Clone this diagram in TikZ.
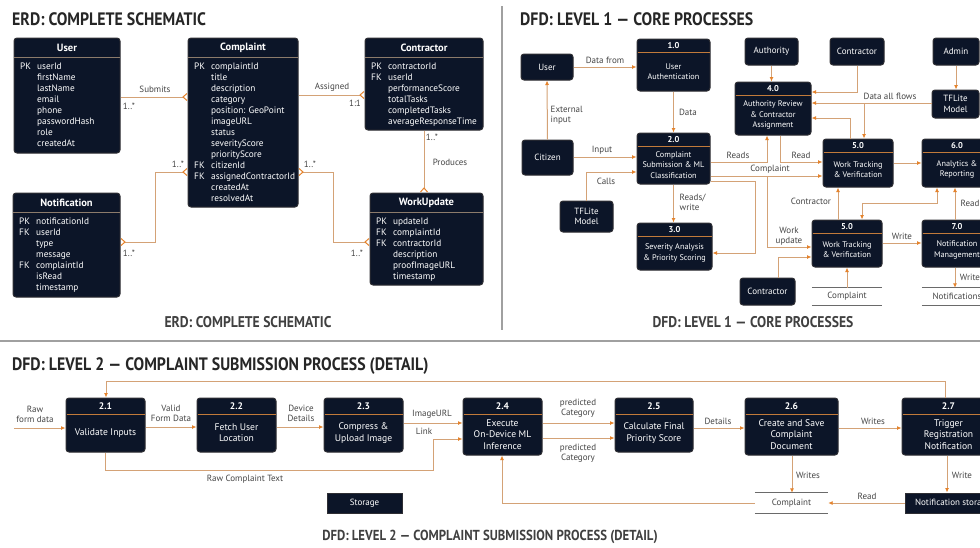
\documentclass[tikz,border=0pt]{standalone}
\usepackage{fontspec}
\setmainfont{PT Sans}
\newfontfamily\titlefont[FakeStretch=0.88]{PT Sans}
\usetikzlibrary{arrows.meta}
\definecolor{navy}{HTML}{0C1528}
\definecolor{boxedge}{HTML}{2E2E33}
\definecolor{conn}{HTML}{D4A276}
\definecolor{arr}{HTML}{E5832C}
\definecolor{sepc}{HTML}{C27A3A}
\definecolor{esepc}{HTML}{8C7B6B}
\definecolor{lbl}{HTML}{454545}
\definecolor{divc}{HTML}{A0A0A0}
\newcommand\kf[1]{\makebox[17pt][l]{#1}}
\newcommand\erdent[7]{%
  \node[box, minimum width={#4-#2}, minimum height={#5-#3}] (#1) at ({(#2+#4)/2},{(#3+#5)/2}) {};
  \node[etitle] (#1-h) at ({(#2+#4)/2},{#3+10}) {#6};
  \draw[esep] ({#2},{#3+19}) -- ({#4},{#3+19});
  \node[ebody, anchor=north west] (#1-b) at ({#2+6},{#3+24}) {#7};
}
\newcommand\dfdproc[8]{%
  \node[box, minimum width={#4-#2}, minimum height={#5-#3}] (#1) at ({(#2+#4)/2},{(#3+#5)/2}) {};
  \node[phead] (#1-n) at ({(#2+#4)/2},{#3+#6/2}) {#7};
  \draw[psep] ({#2+0.5},{#3+#6}) -- ({#4-0.5},{#3+#6});
  \node[pbody] (#1-t) at ({(#2+#4)/2},{(#3+#6+#5)/2}) {#8};
}
\newcommand\dfdext[6]{%
  \node[ext, minimum width={#4-#2}, minimum height={#5-#3}] (#1) at ({(#2+#4)/2},{(#3+#5)/2}) {#6};
}
\newcommand\dstore[6]{%
  \node[lab, minimum width={#4-#2}, minimum height={#5-#3}, inner sep=0pt] (#1) at ({(#2+#4)/2},{(#3+#5)/2}) {#6};
  \draw[storeline] (#1.north west) -- (#1.north east) (#1.south west) -- (#1.south east);
}
\begin{document}
\begin{tikzpicture}[x=1pt,y=-1pt,
 box/.style={draw=boxedge, line width=1pt, fill=navy, rounded corners=3pt, inner sep=0pt},
 etitle/.style={text=white, font=\fontsize{10.5}{12}\selectfont\bfseries, inner sep=0pt},
 ebody/.style={text=white, font=\fontsize{9.3}{11}\selectfont, align=left, inner sep=0pt},
 esep/.style={draw=esepc, line width=0.6pt},
 psep/.style={draw=sepc, line width=0.8pt},
 phead/.style={text=white, font=\fontsize{8.5}{10}\selectfont\bfseries, inner sep=0pt},
 pbody/.style={text=white, font=\fontsize{8.2}{10.2}\selectfont, align=center, inner sep=0pt},
 ext/.style={box, text=white, align=center, font=\fontsize{9}{10.5}\selectfont},
 wire/.style={draw=conn, line width=1pt},
 flow/.style={wire, -{Latex[length=4.5pt,width=4pt,color=arr]}},
 flowb/.style={wire, {Latex[length=4.5pt,width=4pt,color=arr]}-{Latex[length=4.5pt,width=4pt,color=arr]}},
 crow/.style={wire, -{Straight Barb[reversed,length=4pt,width=7pt,color=arr]}},
 crowb/.style={wire, {Straight Barb[reversed,length=4pt,width=7pt,color=arr]}-{Straight Barb[reversed,length=4pt,width=7pt,color=arr]}},
 lab/.style={text=lbl, font=\fontsize{9}{10}\selectfont, align=center, inner sep=0.5pt},
 storeline/.style={draw=lbl!80, line width=0.7pt},
 stitle/.style={font=\titlefont\bfseries\fontsize{18}{20}\selectfont, text=black!85, anchor=west, inner sep=0pt},
 ctitle/.style={font=\titlefont\bfseries\fontsize{15.5}{17}\selectfont, text=black!75, inner sep=0pt},
]
\fill[white] (0,0) rectangle (980,547);
\useasboundingbox (0,0) rectangle (980,547);
\draw[divc, line width=1.3pt] (502,6) -- (502,330);
\draw[divc, line width=1.3pt] (0,341) -- (980,341);

% ================= ERD =================
\node[stitle] (t1) at (12,19) {ERD: COMPLETE SCHEMATIC};
\erdent{user}{14}{38}{120}{153}{User}{\strut\kf{PK}userId\\\kf{}firstName\\\kf{}lastName\\\kf{}email\\\kf{}phone\\\kf{}passwordHash\\\kf{}role\\\kf{}createdAt}
\erdent{complaint}{188}{38}{298}{207}{Complaint}{\strut\kf{PK}complaintId\\\kf{}title\\\kf{}description\\\kf{}category\\\kf{}position: GeoPoint\\\kf{}imageURL\\\kf{}status\\\kf{}severityScore\\\kf{}priorityScore\\\kf{FK}citizenId\\\kf{FK}assignedContractorId\\\kf{}createdAt\\\kf{}resolvedAt}
\erdent{contractor}{365}{38}{483}{130}{Contractor}{\strut\kf{PK}contractorId\\\kf{FK}userId\\\kf{}performanceScore\\\kf{}totalTasks\\\kf{}completedTasks\\\kf{}averageResponseTime}
\erdent{notification}{13}{193}{120}{297}{Notification}{\strut\kf{PK}notificationId\\\kf{FK}userId\\\kf{}type\\\kf{}message\\\kf{FK}complaintId\\\kf{}isRead\\\kf{}timestamp}
\erdent{workupdate}{370}{193}{483}{285}{WorkUpdate}{\strut\kf{PK}updateId\\\kf{FK}complaintId\\\kf{FK}contractorId\\\kf{}description\\\kf{}proofImageURL\\\kf{}timestamp}

\draw[crow] (user.east |- 0,97) -- (complaint.west |- 0,97);
\node[lab] (e1) at (155,89) {Submits};
\node[lab] (e2) at (129,106) {1..*};
\draw[crow] (complaint.east |- 0,95) -- (contractor.west |- 0,95);
\node[lab] (e3) at (332,87) {Assigned};
\node[lab] (e4) at (355,103) {1:1};
\draw[crow] (contractor.south) -- (workupdate.north -| contractor.south);
\node[lab] (e5) at (432,137) {1..*};
\node[lab] (e6) at (450,162) {Produces};
\draw[crowb] (complaint.west |- 0,172) -| (155,242) -- (notification.east |- 0,242);
\node[lab] (e7) at (178,164) {1..*};
\node[lab] (e8) at (129,253) {1..*};
\draw[crowb] (complaint.east |- 0,172) -| (333,242) -- (workupdate.west |- 0,242);
\node[lab] (e9) at (310,164) {1..*};
\node[lab] (e10) at (357,253) {1..*};
\node[ctitle] (c1) at (248,322) {ERD: COMPLETE SCHEMATIC};

% ================= DFD LEVEL 1 =================
\node[stitle] (t2) at (520,19) {DFD: LEVEL 1 — CORE PROCESSES};
\dfdext{usr}{521}{54}{573}{80}{User}
\dfdext{cit}{522}{140}{573}{175}{Citizen}
\dfdext{tfa}{560}{201}{613}{232}{TFLite\\Model}
\dfdext{auth}{745}{38}{798}{65}{Authority}
\dfdext{cont}{830}{38}{884}{65}{Contractor}
\dfdext{admin}{933}{38}{979}{65}{Admin}
\dfdext{tfb}{932}{90}{979}{118}{TFLite\\Model}
\dfdext{conb}{740}{278}{795}{305}{Contractor}
\dfdproc{pa}{637}{39}{710}{91}{13}{1.0}{User\\Authentication}
\dfdproc{pb}{637}{133}{710}{184}{13}{2.0}{Complaint\\Submission \& ML\\Classification}
\dfdproc{pc}{637}{223}{712}{270}{13}{3.0}{Severity Analysis\\\& Priority Scoring}
\dfdproc{pd}{735}{82}{811}{135}{13}{4.0}{Authority Review\\\& Contractor\\Assignment}
\dfdproc{pe}{823}{139}{893}{187}{13}{5.0}{Work Tracking\\\& Verification}
\dfdproc{pf}{922}{139}{992}{187}{13}{6.0}{Analytics \&\\Reporting}
\dfdproc{pg}{812}{220}{882}{267}{13}{5.0}{Work Tracking\\\& Verification}
\dfdproc{ph}{922}{220}{992}{267}{13}{7.0}{Notification\\Management}
\dstore{dsa}{812}{288}{882}{305}{Complaint}
\dstore{dsb}{922}{288}{992}{305}{Notifications}

\draw[flow] (usr.east) -- (pa.west |- usr.east);
\node[lab] (d1) at (605,60) {Data from};
\draw[flow] (cit.north) -- (usr.south);
\node[lab, align=left, anchor=west] (d2) at (550,115) {External\\input};
\draw[flow] (pa.south) -- (pb.north);
\node[lab] (d3) at (688,112) {Data};
\draw[flow] (cit.east |- 0,157) -- (pb.west |- 0,157);
\node[lab] (d4) at (602,150) {Input};
\draw[flow] (tfa.north) |- (pb.west |- 0,172);
\node[lab] (d5) at (606,181) {Calls};
\draw[flow] (pb.south) -- (pc.north -| pb.south);
\node[lab, align=left, anchor=west] (d6) at (679,202) {Reads/\\write};
\draw[flow] (pb.east |- 0,162) -| (pd.south -| 767,0);
\node[lab] (d7) at (738,155) {Reads};
\draw[flow] (pd.south -| 780,0) |- (pe.west |- 0,162);
\node[lab] (d8) at (801,155) {Read};
\draw[flow] (pb.east |- 0,176) -- (pe.west |- 0,176);
\node[lab] (d9) at (770,169) {Complaint};
\draw[flow] (pb.east |- 0,181) -- (755,181) |- (pc.east |- 0,253);
\coordinate (wu) at (767,176);
\draw[flow] (wu) |- (pg.west |- 0,247);
\node[lab] (d10) at (789,236) {Work\\update};
\draw[flow] (conb.north -| 778,0) |- (pg.west |- 0,257);
\draw[flow] (pg.north -| 838,0) -- (pe.south -| 838,0);
\node[lab] (d11) at (811,201) {Contractor};
\draw[flowb] (pg.north -| 862,0) |- (937,203) -- (pf.south -| 937,0);
\draw[flow] (ph.north -| 955,0) -- (pf.south -| 955,0);
\node[lab] (d12) at (970,203) {Read};
\draw[flow] (pg.east |- 0,243) -- (ph.west |- 0,243);
\node[lab] (d13) at (902,236) {Write};
\draw[flow] (dsa.north -| 847,0) -- (pg.south -| 847,0);
\draw[flow] (ph.south -| 955,0) -- (dsb.north -| 955,0);
\node[lab] (d14) at (970,277) {Write};
\draw[flow] (pe.east |- 0,163) -- (pf.west |- 0,163);
\draw[flow] (auth.south) -- (pd.north -| auth.south);
\draw[flow] (cont.south) |- (pd.east |- 0,92);
\draw[flow] (tfb.west |- 0,103) -- (pd.east |- 0,103);
\node[lab] (d15) at (890,96) {Data all flows};
\coordinate (dj) at (864,103);
\draw[flow] (dj) -- (pe.north -| dj);
\draw[flow] (pe.north -| 850,0) |- (pd.east |- 0,118);
\draw[flow] (admin.south) -- (tfb.north -| admin.south);
\node[ctitle] (c2) at (753,322) {DFD: LEVEL 1 — CORE PROCESSES};

% ================= DFD LEVEL 2 =================
\node[stitle] (t3) at (12,366) {DFD: LEVEL 2 — COMPLAINT SUBMISSION PROCESS (DETAIL)};
\begin{scope}[phead/.style={text=white, font=\fontsize{9.5}{10}\selectfont\bfseries, inner sep=0pt},
  pbody/.style={text=white, font=\fontsize{9.6}{11.3}\selectfont, align=center, inner sep=0pt}]
\dfdproc{qa}{66}{398}{145}{452}{16}{2.1}{Validate Inputs}
\dfdproc{qb}{197}{398}{276}{452}{16}{2.2}{Fetch User\\Location}
\dfdproc{qc}{324}{398}{403}{452}{16}{2.3}{Compress \&\\Upload Image}
\dfdproc{qd}{463}{398}{542}{455}{16}{2.4}{Execute\\On-Device ML\\Inference}
\dfdproc{qe}{615}{398}{693}{452}{16}{2.5}{Calculate Final\\Priority Score}
\dfdproc{qf}{745}{398}{838}{455}{16}{2.6}{Create and Save\\Complaint\\Document}
\dfdproc{qg}{902}{398}{995}{455}{16}{2.7}{Trigger\\Registration\\Notification}
\end{scope}
\node[ext, rounded corners=0pt, minimum width=75, minimum height=20] (stor) at (364.5,503) {Storage};
\dstore{dsc}{755}{493}{828}{513}{Complaint}
\node[ext, rounded corners=0pt, minimum width=95, minimum height=20, anchor=west] (nst) at (905,503) {Notification storage};

\coordinate (rawin) at (14,428);
\draw[flow] (rawin) -- (qa.west |- rawin);
\node[lab] (f1) at (35,414) {Raw\\form data};
\draw[flow] (qa.east |- 0,427) -- (qb.west |- 0,427);
\node[lab] (f2) at (171,413) {Valid\\Form Data};
\draw[flow] (qb.east |- 0,427) -- (qc.west |- 0,427);
\node[lab] (f3) at (301,413) {Device\\Details};
\draw[flow] (qc.east |- 0,423) -- (qd.west |- 0,423);
\node[lab] (f4) at (432,414) {ImageURL};
\node[lab] (f5) at (424,431) {Link};
\draw[flow] (qa.south -| 105,0) |- (433,470) |- (qd.west |- 0,439);
\node[lab] (f6) at (245,479) {Raw Complaint Text};
\draw[flow] (qd.east |- 0,423) -- (qe.west |- 0,423);
\node[lab] (f7) at (578,408) {predicted\\Category};
\draw[flow] (qd.east |- 0,438) -- (qe.west |- 0,438);
\node[lab] (f8) at (578,453) {predicted\\Category};
\draw[flow] (qe.east |- 0,428) -- (qf.west |- 0,428);
\node[lab] (f9) at (718,421) {Details};
\draw[flow] (qf.east |- 0,428) -- (qg.west |- 0,428);
\node[lab] (f10) at (873,421) {Writes};
\draw[flow] (qf.south -| 792,0) -- (dsc.north -| 792,0);
\node[lab] (f11) at (808,475) {Writes};
\draw[flow] (qg.south -| 947,0) -- (nst.north -| 947,0);
\node[lab] (f12) at (962,475) {Write};
\draw[flow] (nst.west) -- (dsc.east);
\node[lab] (f13) at (867,496) {Read};
\draw[flow] (dsc.west) -| (qd.south -| 502,0);
\draw[flow] (qg.north -| 945,0) -- ++(0,-16) -| (qa.north -| 106,0);
\node[ctitle, font=\titlefont\bfseries\fontsize{14.5}{16}\selectfont] (c3) at (490,537) {DFD: LEVEL 2 — COMPLAINT SUBMISSION PROCESS (DETAIL)};
\end{tikzpicture}
\end{document}
